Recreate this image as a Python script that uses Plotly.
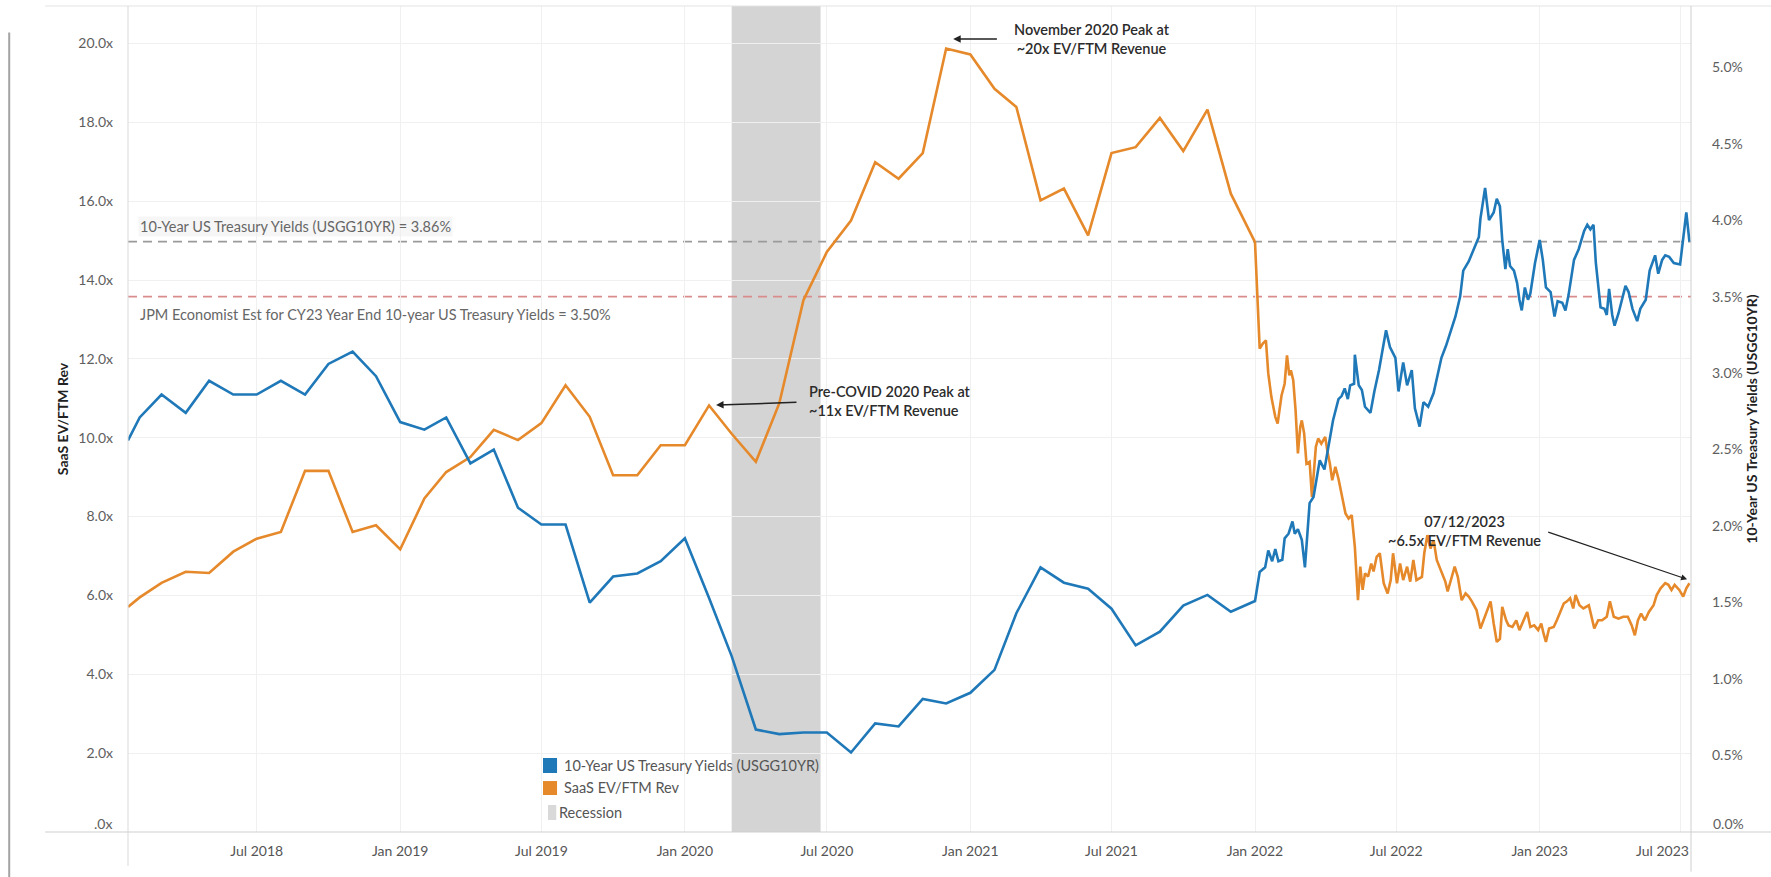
import pandas as pd
import plotly.graph_objects as go

# ---- values ----
# monthly section (first point sits on the left edge of the axis)
month_dates = [
    "2018-01-17", "2018-02-01", "2018-03-01", "2018-04-01", "2018-05-01", "2018-06-01",
    "2018-07-01", "2018-08-01", "2018-09-01", "2018-10-01", "2018-11-01", "2018-12-01",
    "2019-01-01", "2019-02-01", "2019-03-01", "2019-04-01", "2019-05-01", "2019-06-01",
    "2019-07-01", "2019-08-01", "2019-09-01", "2019-10-01", "2019-11-01", "2019-12-01",
    "2020-01-01", "2020-02-01", "2020-03-01", "2020-04-01", "2020-05-01", "2020-06-01",
    "2020-07-01", "2020-08-01", "2020-09-01", "2020-10-01", "2020-11-01", "2020-12-01",
    "2021-01-01", "2021-02-01", "2021-03-01", "2021-04-01", "2021-05-01", "2021-06-01",
    "2021-07-01", "2021-08-01", "2021-09-01", "2021-10-01", "2021-11-01", "2021-12-01",
]
saas_monthly = [
    5.71, 5.95, 6.32, 6.60, 6.57, 7.11, 7.44, 7.61, 9.16, 9.16, 7.61, 7.78,
    7.17, 8.46, 9.13, 9.51, 10.20, 9.94, 10.37, 11.33, 10.53, 9.05, 9.05, 9.81,
    9.81, 10.82, 10.10, 9.39, 10.87, 13.49, 14.71, 15.51, 16.99, 16.57, 17.22, 19.87,
    19.72, 18.85, 18.39, 16.02, 16.32, 15.13, 17.22, 17.37, 18.11, 17.27, 18.32, 16.19,
]
yield_monthly = [
    2.56, 2.71, 2.86, 2.74, 2.95, 2.86, 2.86, 2.95, 2.86, 3.06, 3.14, 2.98,
    2.68, 2.63, 2.71, 2.41, 2.50, 2.12, 2.01, 2.01, 1.50, 1.67, 1.69, 1.77,
    1.92, 1.53, 1.15, 0.67, 0.64, 0.65, 0.65, 0.52, 0.71, 0.69, 0.87, 0.84,
    0.91, 1.06, 1.43, 1.73, 1.63, 1.59, 1.46, 1.22, 1.31, 1.48, 1.55, 1.44,
]

# denser section from Jan 2022, as day offsets from daily_start
daily_start = "2022-01-01"
saas_days = [
    0, 6, 10, 14, 17, 21, 26, 29, 34, 38, 41, 44, 46, 49, 52, 55, 58, 60, 63, 66,
    70, 73, 78, 81, 85, 90, 93, 96, 99, 103, 107, 111, 116, 120, 124, 128, 132, 135, 138, 141,
    145, 149, 152, 156, 160, 165, 170, 174, 177, 182, 186, 190, 195, 199, 203, 207, 214, 217, 221, 225,
    229, 233, 239, 244, 247, 252, 256, 260, 265, 270, 274, 278, 284, 289, 293, 297, 302, 306, 310, 314,
    317, 322, 325, 330, 335, 339, 343, 349, 353, 358, 363, 367, 370, 373, 377, 383, 387, 391, 396, 400,
    404, 408, 411, 416, 421, 428, 432, 435, 440, 445, 451, 455, 460, 466, 472, 478, 483, 487, 491, 495,
    500, 505, 511, 515, 520, 526, 530, 534, 538, 544, 549, 553, 557,
]
saas_daily = [
    14.96, 12.26, 12.39, 12.47, 11.63, 11.03, 10.53, 10.36, 11.07, 11.37,
    12.09, 11.58, 11.71, 11.46, 10.70, 9.60, 10.27, 10.44, 10.11, 9.34,
    9.39, 8.50, 9.77, 9.98, 9.85, 10.02, 9.64, 9.34, 8.92, 9.26,
    8.96, 8.58, 8.08, 7.95, 8.04, 7.23, 5.88, 6.73, 6.14, 6.56,
    6.48, 6.81, 6.61, 6.98, 7.07, 6.31, 6.05, 6.39, 7.07, 6.31,
    6.81, 6.39, 6.73, 6.35, 6.90, 6.39, 6.47, 7.07, 7.53, 7.19,
    7.40, 6.90, 6.61, 6.35, 6.10, 6.47, 6.73, 6.47, 5.88, 6.05,
    5.97, 5.85, 5.63, 5.16, 5.37, 5.58, 5.85, 5.29, 4.82, 4.90,
    5.71, 5.37, 5.24, 5.20, 5.37, 5.12, 5.29, 5.58, 5.20, 5.24,
    5.12, 5.29, 5.03, 4.82, 5.16, 5.20, 5.37, 5.58, 5.80, 5.85,
    5.93, 5.67, 6.01, 5.75, 5.67, 5.75, 5.41, 5.16, 5.37, 5.37,
    5.46, 5.85, 5.46, 5.41, 5.46, 5.46, 5.24, 4.99, 5.37, 5.54,
    5.37, 5.58, 5.75, 6.01, 6.18, 6.31, 6.27, 6.14, 6.27, 6.14,
    5.97, 6.18, 6.31,
]
yield_days = [
    0, 6, 13, 17, 22, 26, 30, 35, 38, 43, 48, 51, 55, 60, 64, 70, 75, 83, 89, 93,
    100, 107, 111, 115, 119, 122, 127, 128, 133, 137, 141, 148, 153, 159, 168, 173, 180, 184, 190, 195,
    201, 205, 211, 216, 222, 229, 235, 239, 245, 250, 257, 263, 267, 274, 280, 287, 289, 295, 300, 306,
    310, 314, 317, 321, 324, 327, 332, 336, 339, 342, 346, 350, 353, 359, 365, 369, 373, 379, 384, 388,
    394, 398, 402, 409, 415, 422, 426, 430, 434, 437, 443, 448, 451, 454, 458, 461, 466, 471, 475, 479,
    484, 490, 494, 501, 506, 513, 517, 522, 526, 531, 537, 545, 549, 553, 557,
]
yield_daily = [
    1.51, 1.70, 1.73, 1.84, 1.77, 1.85, 1.77, 1.78, 1.92, 1.95,
    2.03, 1.95, 1.98, 1.91, 1.73, 2.15, 2.19, 2.43, 2.37, 2.48,
    2.69, 2.83, 2.85, 2.90, 2.83, 2.92, 2.93, 3.12, 2.92, 2.89,
    2.78, 2.74, 2.88, 3.02, 3.28, 3.17, 3.10, 2.88, 3.07, 2.92,
    3.02, 2.77, 2.65, 2.81, 2.78, 2.87, 3.02, 3.10, 3.18, 3.26,
    3.37, 3.50, 3.67, 3.73, 3.81, 3.89, 4.01, 4.21, 4.00, 4.05,
    4.14, 4.09, 3.87, 3.68, 3.81, 3.70, 3.67, 3.59, 3.48, 3.41,
    3.56, 3.48, 3.52, 3.72, 3.87, 3.74, 3.56, 3.53, 3.37, 3.47,
    3.46, 3.41, 3.51, 3.74, 3.81, 3.93, 3.97, 3.94, 3.97, 3.72,
    3.43, 3.42, 3.38, 3.55, 3.38, 3.31, 3.39, 3.50, 3.57, 3.53,
    3.42, 3.34, 3.42, 3.48, 3.67, 3.77, 3.65, 3.74, 3.77, 3.76,
    3.72, 3.71, 3.89, 4.05, 3.86,
]

recession = ["2020-03-01", "2020-06-23"]
current_yield = 3.86
jpm_estimate = 3.50

x_ticks = ["2018-07-01", "2019-01-01", "2019-07-01", "2020-01-01", "2020-07-01", "2021-01-01",
           "2021-07-01", "2022-01-01", "2022-07-01", "2023-01-01", "2023-07-01"]
x_labels = ["Jul 2018", "Jan 2019", "Jul 2019", "Jan 2020", "Jul 2020", "Jan 2021",
            "Jul 2021", "Jan 2022", "Jul 2022", "Jan 2023", "Jul 2023"]
left_ticks = [0, 2, 4, 6, 8, 10, 12, 14, 16, 18, 20]
left_labels = [".0x", "2.0x", "4.0x", "6.0x", "8.0x", "10.0x", "12.0x", "14.0x", "16.0x", "18.0x", "20.0x"]
right_ticks = [0, 0.5, 1.0, 1.5, 2.0, 2.5, 3.0, 3.5, 4.0, 4.5, 5.0]
right_labels = ["0.0%", "0.5%", "1.0%", "1.5%", "2.0%", "2.5%", "3.0%", "3.5%", "4.0%", "4.5%", "5.0%"]

BLUE = "#1f78b8"
ORANGE = "#e5892b"
GREY_BAND = "#d4d4d4"
FONT = "Lato"

# ---- assemble series ----
base = pd.Timestamp(daily_start)
saas_x = list(pd.to_datetime(month_dates)) + list(base + pd.to_timedelta(saas_days, unit="D"))
saas_y = saas_monthly + saas_daily
yield_x = list(pd.to_datetime(month_dates)) + list(base + pd.to_timedelta(yield_days, unit="D"))
yield_y = yield_monthly + yield_daily

fig = go.Figure()

fig.add_trace(go.Scatter(x=saas_x, y=saas_y, mode="lines", name="SaaS EV/FTM Rev",
                         line=dict(color=ORANGE, width=2.6), showlegend=False))
fig.add_trace(go.Scatter(x=yield_x, y=yield_y, mode="lines",
                         name="10-Year US Treasury Yields (USGG10YR)",
                         line=dict(color=BLUE, width=2.6), yaxis="y2", showlegend=False))

# recession band + reference lines
shapes = [
    dict(type="rect", xref="x", yref="paper", x0=recession[0], x1=recession[1], y0=0, y1=1,
         fillcolor=GREY_BAND, line=dict(width=0), layer="below"),
    dict(type="line", xref="paper", yref="y2", x0=0, x1=1, y0=current_yield, y1=current_yield,
         line=dict(color="#9a9a9a", width=1.8, dash="9px,6px"), layer="below"),
    dict(type="line", xref="paper", yref="y2", x0=0, x1=1, y0=jpm_estimate, y1=jpm_estimate,
         line=dict(color="#d98c8c", width=1.8, dash="9px,6px"), layer="below"),
    # frame lines
    dict(type="line", xref="paper", yref="paper", x0=-0.053, x1=1.06, y0=1, y1=1,
         line=dict(color="#e3e3e3", width=1)),
    dict(type="line", xref="paper", yref="paper", x0=-0.053, x1=1.06, y0=0, y1=0,
         line=dict(color="#cfcfcf", width=1)),
    dict(type="line", xref="paper", yref="paper", x0=0, x1=0, y0=-0.041, y1=1,
         line=dict(color="#d9d9d9", width=1)),
    dict(type="line", xref="paper", yref="paper", x0=1, x1=1, y0=-0.048, y1=1,
         line=dict(color="#cfcfcf", width=1)),
    dict(type="line", xref="paper", yref="paper", x0=-0.076, x1=-0.076, y0=-0.06, y1=0.968,
         line=dict(color="#a3a3a3", width=2)),
    # legend keys
    dict(type="rect", xref="paper", yref="paper", x0=0.2655, x1=0.2745, y0=0.0714, y1=0.0896,
         fillcolor=BLUE, line=dict(width=0)),
    dict(type="rect", xref="paper", yref="paper", x0=0.2655, x1=0.2745, y0=0.0448, y1=0.0617,
         fillcolor=ORANGE, line=dict(width=0)),
    dict(type="rect", xref="paper", yref="paper", x0=0.2687, x1=0.2740, y0=0.0145, y1=0.0327,
         fillcolor="#d9d9d9", line=dict(width=0)),
]

note_font = dict(family=FONT, size=14.5, color="#2b2b2b", weight=600)
ref_font = dict(family=FONT, size=14.5, color="#666666")
legend_font = dict(family=FONT, size=14.5, color="#555555")
tick_font = dict(family=FONT, size=14, color="#5e5e5e")
annotations = [
    dict(text="10-Year US Treasury Yields (USGG10YR) = 3.86%", xref="paper", yref="y2",
         x=0.0064, y=current_yield, yshift=15, xanchor="left", yanchor="middle", showarrow=False,
         bgcolor="rgba(238,238,238,0.55)", font=ref_font),
    dict(text="JPM Economist Est for CY23 Year End 10-year US Treasury Yields = 3.50%", xref="paper",
         yref="y2", x=0.0064, y=jpm_estimate, yshift=-18, xanchor="left", yanchor="middle",
         showarrow=False, font=ref_font),
    # November 2020 peak
    dict(text="", x="2020-12-10", y=20.11, ax="2021-02-06", ay=20.11, axref="x", ayref="y",
         showarrow=True, arrowhead=2, arrowsize=1, arrowwidth=1.5, arrowcolor="#222222"),
    dict(text="November 2020 Peak at<br>~20x EV/FTM Revenue", x="2021-06-06", y=20.11,
         showarrow=False, align="center", font=note_font),
    # pre-COVID peak
    dict(text="", x="2020-02-10", y=10.83, ax="2020-05-25", ay=10.9, axref="x", ayref="y",
         showarrow=True, arrowhead=2, arrowsize=1, arrowwidth=1.5, arrowcolor="#222222"),
    dict(text="Pre-COVID 2020 Peak at<br>~11x EV/FTM Revenue", x="2020-06-06", y=10.93,
         xanchor="left", showarrow=False, align="left", font=note_font),
    # latest point
    dict(text="", x="2023-07-09", y=6.41, ax="2023-01-10", ay=7.62, axref="x", ayref="y",
         showarrow=True, arrowhead=2, arrowsize=1, arrowwidth=1.2, arrowcolor="#222222"),
    dict(text="07/12/2023<br>~6.5x EV/FTM Revenue", x="2022-09-27", y=7.63,
         showarrow=False, align="center", font=note_font),
    # legend labels
    dict(text="10-Year US Treasury Yields (USGG10YR)", xref="paper", yref="paper", x=0.2777, y=0.0811,
         xanchor="left", yanchor="middle", showarrow=False, font=legend_font),
    dict(text="SaaS EV/FTM Rev", xref="paper", yref="paper", x=0.2777, y=0.0533,
         xanchor="left", yanchor="middle", showarrow=False, font=legend_font),
    dict(text="Recession", xref="paper", yref="paper", x=0.2745, y=0.0242,
         xanchor="left", yanchor="middle", showarrow=False, font=legend_font),
    # labels that the original keeps inside the pane: last date and the two zero ticks
    dict(text=x_labels[-1], xref="paper", yref="paper", x=1, y=0, yshift=-18, xanchor="right",
         yanchor="middle", showarrow=False, font=dict(family=FONT, size=14, color="#555555")),
    dict(text=left_labels[0], xref="paper", yref="y", x=0, y=left_ticks[0], xshift=-14, yshift=9,
         xanchor="right", yanchor="middle", showarrow=False, font=tick_font),
    dict(text=right_labels[0], xref="paper", yref="y2", x=1, y=right_ticks[0], xshift=20, yshift=9,
         xanchor="left", yanchor="middle", showarrow=False, font=tick_font),
]

axis_title_font = dict(family=FONT, size=14, color="#222222", weight="bold")
fig.update_layout(
    width=1771, height=877,
    margin=dict(l=128, r=80, t=6, b=45),
    paper_bgcolor="white", plot_bgcolor="white",
    showlegend=False,
    shapes=shapes, annotations=annotations,
    xaxis=dict(type="date", range=["2018-01-17", "2023-07-14"], tickvals=x_ticks,
               ticktext=x_labels[:-1] + [""],
               showgrid=True, gridcolor="#f0f0f0", zeroline=False, showline=False, ticks="",
               tickfont=dict(family=FONT, size=14, color="#555555"), ticklabelstandoff=9),
    yaxis=dict(range=[0, 20.95], tickvals=left_ticks, ticktext=[""] + left_labels[1:], showgrid=True,
               gridcolor="#f0f0f0", zeroline=False, showline=False, ticks="", tickfont=tick_font,
               ticklabelstandoff=14,
               title=dict(text="SaaS EV/FTM Rev", standoff=6, font=axis_title_font)),
    yaxis2=dict(overlaying="y", side="right", range=[0, 5.40], tickvals=right_ticks,
                ticktext=[""] + right_labels[1:], showgrid=False, zeroline=False, showline=False,
                ticks="", tickfont=tick_font, ticklabelstandoff=20,
                title=dict(text="10-Year US Treasury Yields (USGG10YR)", standoff=0,
                           font=axis_title_font)),
)

# the page has no body margin in the original screenshot
fig.write_html("out.html", config={"displayModeBar": False},
               post_script="document.body.style.margin='0px';")
